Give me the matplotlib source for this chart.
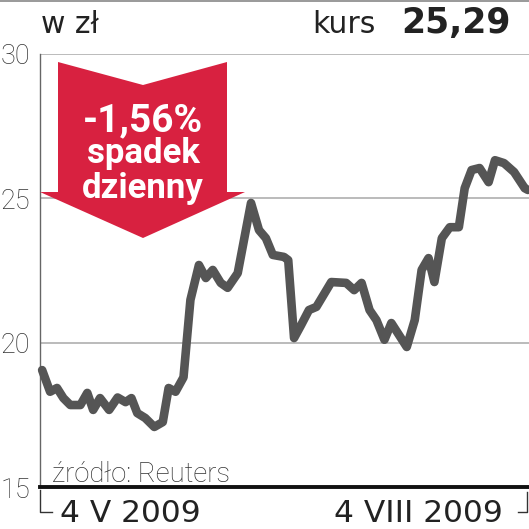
import matplotlib
matplotlib.use("Agg")
import matplotlib.pyplot as plt
from matplotlib.patches import Polygon
from matplotlib.lines import Line2D

# ---- data ----
# days since 4 May 2009
days = [0.4, 1.9, 3.2, 4.4, 5.7, 7.6, 8.9, 10.0, 11.3, 13.0, 14.6, 16.1, 17.2,
        18.3, 19.8, 21.5, 23.1, 24.2, 25.5, 27.0, 28.3, 29.9, 31.2, 32.5, 34.0,
        35.3, 37.2, 39.7, 41.2, 42.5, 43.8, 45.9, 46.7, 47.8, 49.1, 50.6, 52.0,
        54.8, 57.6, 59.1, 60.5, 62.0, 63.3, 64.8, 66.1, 69.0, 70.5, 71.8, 73.1,
        74.2, 75.6, 77.1, 78.8, 79.9, 81.2, 82.7, 84.4, 85.6, 87.3, 89.2, 91.2, 91.8]
prices = [19.05, 18.30, 18.43, 18.08, 17.84, 17.84, 18.26, 17.67, 18.08, 17.67,
          18.10, 17.94, 18.08, 17.56, 17.39, 17.08, 17.25, 18.43, 18.30, 18.80,
          21.48, 22.69, 22.24, 22.52, 22.07, 21.90, 22.41, 24.84, 23.90, 23.62,
          23.04, 22.97, 22.86, 20.16, 20.60, 21.13, 21.24, 22.10, 22.07, 21.82,
          22.07, 21.13, 20.78, 20.10, 20.68, 19.85, 20.78, 22.52, 22.93, 22.10,
          23.62, 24.00, 24.00, 25.35, 25.98, 26.05, 25.56, 26.32, 26.22, 25.91,
          25.35, 25.29]
yticks = [15, 20, 25, 30]
ytick_labels = ["15", "20", "25", "30"]
x_span = 92  # 4 May -> 4 Aug 2009
x_labels = ["4 V 2009", "4 VIII 2009"]
title_left = "w zł"
kurs_label = "kurs"
kurs_value = "25,29"
change_lines = ["-1,56%", "spadek", "dzienny"]
source = "źródło: Reuters"

W = H = 529
fig = plt.figure(figsize=(W / 100, H / 100), dpi=100)
fig.patch.set_facecolor("white")

def fx(x):
    return x / W

def fy(y):
    return 1 - y / H

ax_left, ax_right, ax_top, ax_bot = 40, 529, 54, 487
ax = fig.add_axes([fx(ax_left), fy(ax_bot), (ax_right - ax_left) / W, (ax_bot - ax_top) / H])
ax.set_xlim(0, x_span)
ax.set_ylim(15, 30)
ax.set_facecolor("none")

for s in ["top", "right"]:
    ax.spines[s].set_visible(False)
ax.spines["left"].set_color("#666666")
ax.spines["left"].set_linewidth(1.0)
ax.spines["bottom"].set_color("#111111")
ax.spines["bottom"].set_linewidth(2.8)

for g in [20, 25, 30]:
    ax.axhline(g, color="#a8a8a8", lw=1.1, zorder=1)

ax.set_yticks(yticks)
ax.set_yticklabels(ytick_labels, fontfamily="Roboto", fontweight="light",
                   fontsize=19.5, color="#333333")
ax.tick_params(axis="y", length=0, pad=7)
ax.set_xticks([])

# red arrow (decoration)
arrow_px = [(58, 62), (143, 85), (227, 62), (227, 192), (245, 192),
            (143, 238), (40, 192), (58, 192)]
fig.patches.append(Polygon([(fx(x), fy(y)) for x, y in arrow_px], closed=True,
                           transform=fig.transFigure, facecolor="#d82140",
                           edgecolor="none", zorder=2))

ax.plot(days, prices, color="#555555", lw=6.2, solid_joinstyle="round",
        solid_capstyle="round", zorder=3, clip_on=False)

# arrow text
fig.text(fx(143), fy(131), change_lines[0], fontfamily="Roboto", fontweight="bold",
         fontsize=28, color="white", ha="center", va="baseline", zorder=5)
fig.text(fx(143), fy(163), change_lines[1], fontfamily="Roboto", fontweight="bold",
         fontsize=25, color="white", ha="center", va="baseline", zorder=5)
fig.text(fx(143), fy(198), change_lines[2], fontfamily="Roboto", fontweight="bold",
         fontsize=25, color="white", ha="center", va="baseline", zorder=5)

# header
fig.add_artist(Line2D([0, 1], [fy(1), fy(1)], color="#888888", lw=1.2,
                      transform=fig.transFigure))
fig.text(fx(41), fy(33), title_left, fontfamily="DejaVu Sans", fontsize=21.5,
         color="#222222", ha="left", va="baseline")
fig.text(fx(312), fy(33), kurs_label, fontfamily="DejaVu Sans", fontsize=21.5,
         color="#222222", ha="left", va="baseline")
fig.text(fx(511), fy(33), kurs_value, fontfamily="DejaVu Sans", fontweight="bold",
         fontsize=25, color="#222222", ha="right", va="baseline")

# source
fig.text(fx(52), fy(482), source, fontfamily="Roboto", fontweight="light",
         fontsize=19.8, color="#333333", ha="left", va="baseline")

# x labels and brackets
fig.text(fx(60), fy(522), x_labels[0], fontfamily="DejaVu Sans", fontsize=22.5,
         color="#222222", ha="left", va="baseline")
fig.text(fx(503), fy(522), x_labels[1], fontfamily="DejaVu Sans", fontsize=22.5,
         color="#222222", ha="right", va="baseline")
fig.add_artist(Line2D([fx(40), fx(40), fx(52)], [fy(490), fy(512), fy(512)],
                      color="#333333", lw=1.0, transform=fig.transFigure))
fig.add_artist(Line2D([fx(518), fx(527), fx(527)], [fy(512), fy(512), fy(492)],
                      color="#333333", lw=1.0, transform=fig.transFigure))

fig.savefig("out.png", dpi=100)
